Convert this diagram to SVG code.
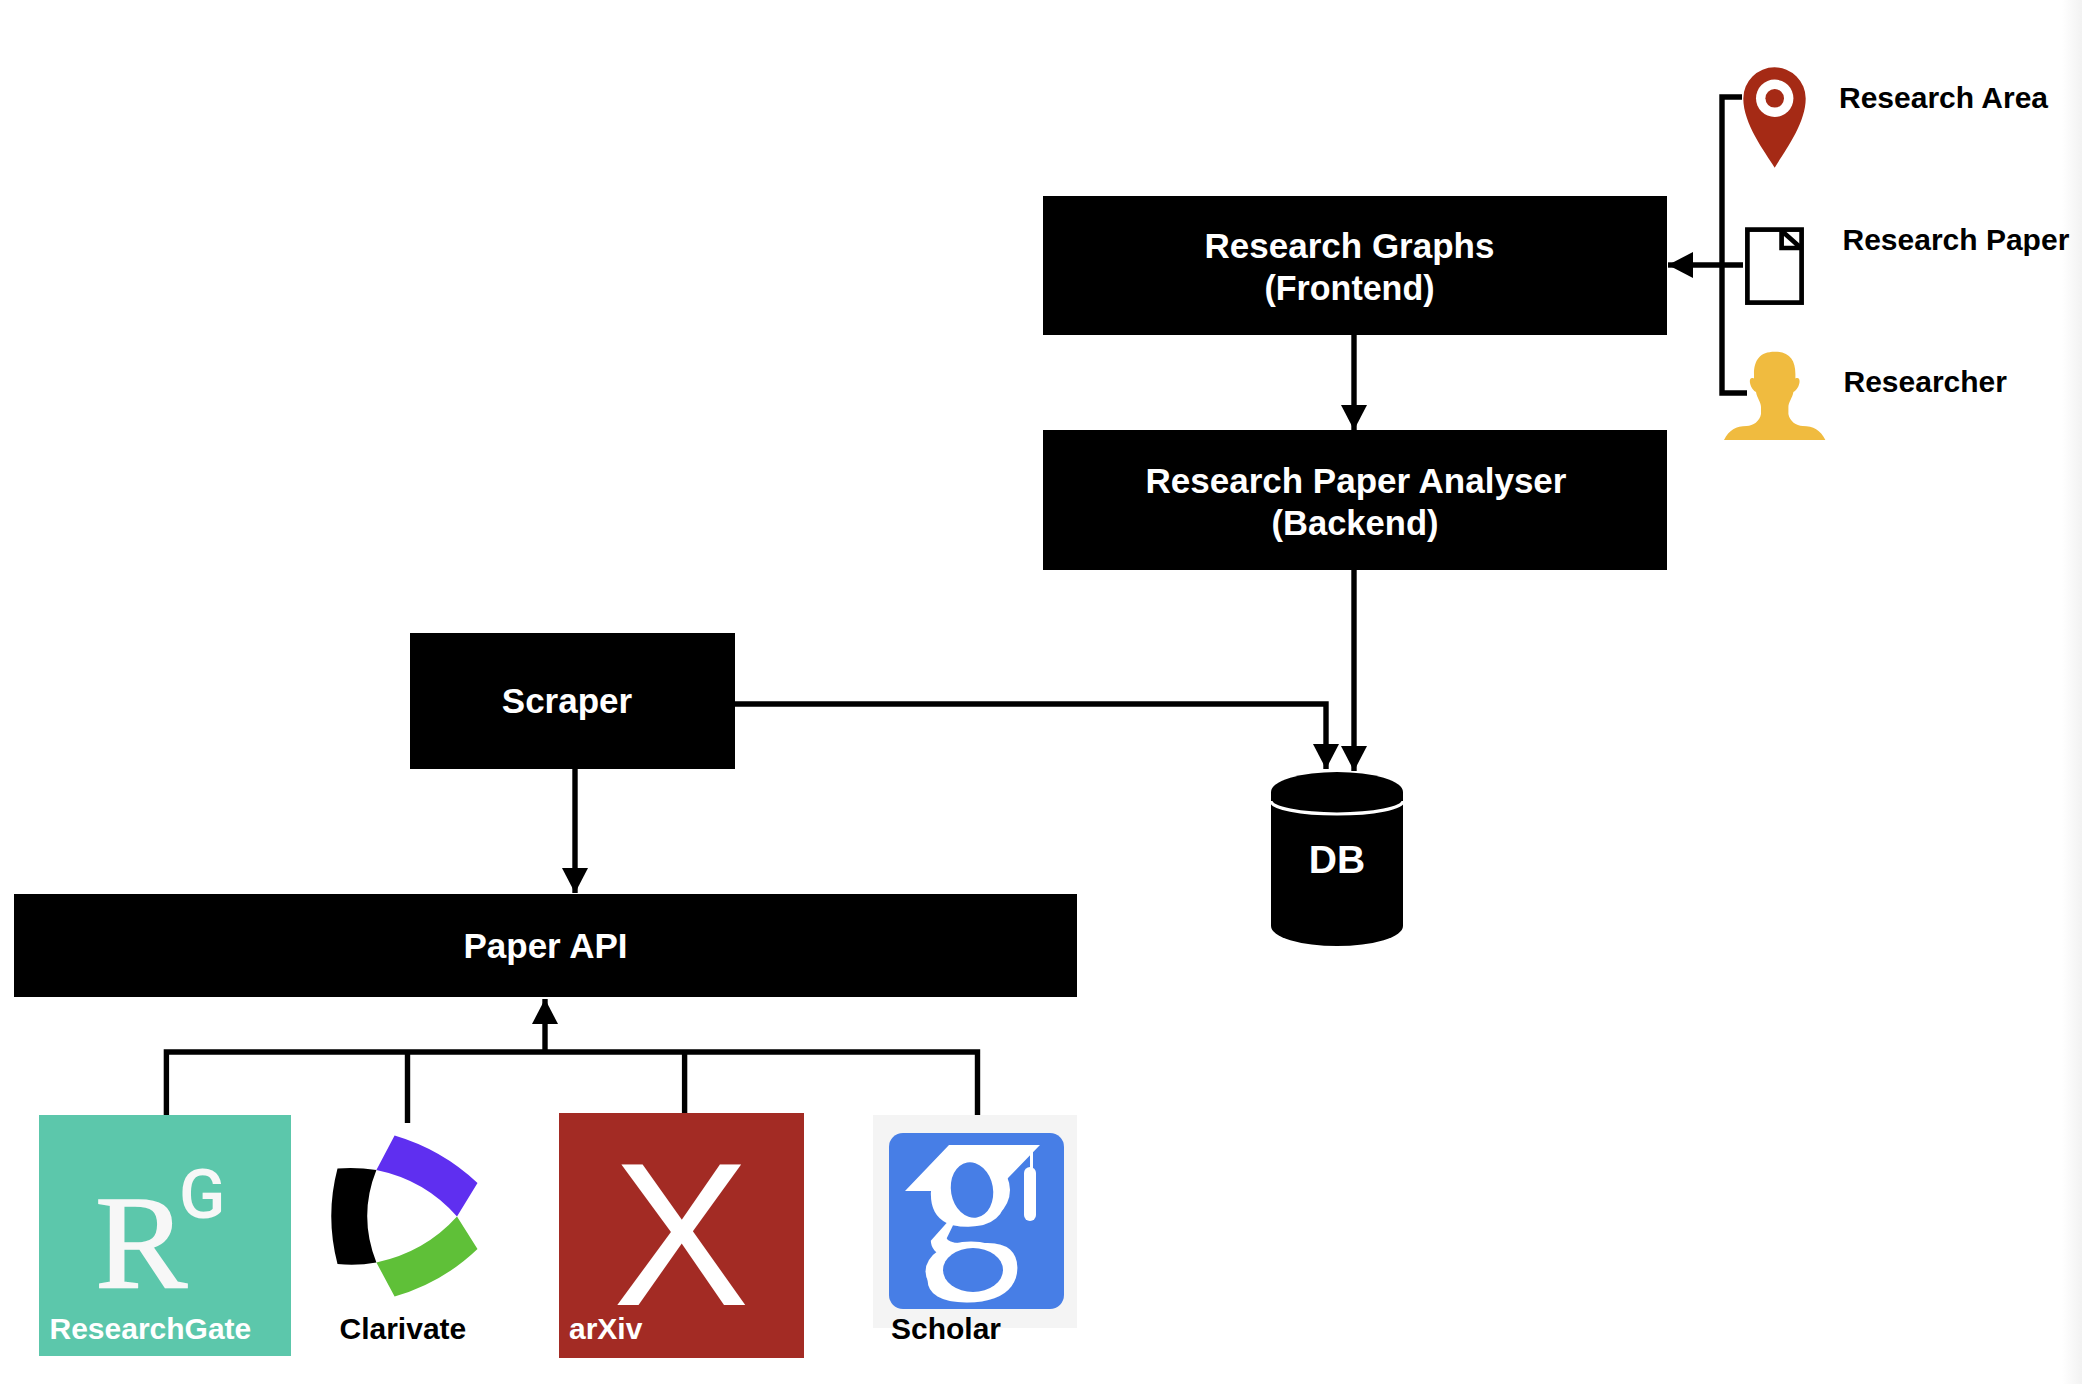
<svg xmlns="http://www.w3.org/2000/svg" width="2082" height="1384" viewBox="0 0 2082 1384">
<style>
text{font-family:"Liberation Sans",Arial,sans-serif;font-weight:700}
.box{fill:#000}
.w{fill:#fff}
.b{fill:#000}
.lb{font-size:35px;text-anchor:middle;fill:#fff}
.sm{font-size:30px;fill:#000}
.con{fill:none;stroke:#000;stroke-width:5.400}
</style>
<defs>
<linearGradient id="edge" x1="0" x2="1" y1="0" y2="0"><stop offset="0" stop-color="#fff"/><stop offset="1" stop-color="#f2f2f2"/></linearGradient>
<marker id="ah" markerUnits="userSpaceOnUse" markerWidth="25" markerHeight="26" refX="25" refY="13" orient="auto"><path d="M0 0L25 13L0 26Z" fill="#000"/></marker>
</defs>
<rect width="2082" height="1384" fill="#fff"/>
<rect x="2062" y="0" width="20" height="1384" fill="url(#edge)"/>
<g id="connectors">
<path class="con" d="M1742 97H1722V393H1747"/>
<path class="con" d="M1743 265H1692"/>
<path class="con" d="M1692 265H1668" marker-end="url(#ah)"/>
<path class="con" d="M1354 335V430" marker-end="url(#ah)"/>
<path class="con" d="M1354 570V771" marker-end="url(#ah)"/>
<path class="con" d="M734 704H1326V769" marker-end="url(#ah)"/>
<path class="con" d="M575 769V893" marker-end="url(#ah)"/>
<path class="con" d="M166.400 1115V1052H977.500V1118"/>
<path class="con" d="M407.500 1052V1123"/>
<path class="con" d="M684.600 1052V1113"/>
<path class="con" d="M545 1052V999" marker-end="url(#ah)"/>
</g>
<g id="research-graphs"><rect class="box" x="1043" y="196" width="624" height="139"/><text class="lb" x="1349.500" y="258">Research Graphs</text><text class="lb" x="1349.500" y="300" textLength="170" lengthAdjust="spacingAndGlyphs">(Frontend)</text></g>
<g id="analyser"><rect class="box" x="1043" y="430" width="624" height="140"/><text class="lb" x="1356" y="492.500">Research Paper Analyser</text><text class="lb" x="1355" y="534.500" textLength="167" lengthAdjust="spacingAndGlyphs">(Backend)</text></g>
<g id="scraper"><rect class="box" x="410" y="633" width="325" height="136"/><text class="lb" x="567" y="713">Scraper</text></g>
<g id="paper-api"><rect class="box" x="14" y="894" width="1063" height="103"/><text class="lb" x="545.500" y="958">Paper API</text></g>
<g id="db">
<path class="b" d="M1271 792A66 20 0 0 1 1403 792V926A66 20 0 0 1 1271 926Z"/>
<path d="M1271 801A66 13 0 0 0 1403 801" fill="none" stroke="#fff" stroke-width="3.200"/>
<text x="1337" y="873" font-size="39" text-anchor="middle" fill="#fff">DB</text>
</g>
<g id="research-area">
<path fill="#a52a15" d="M1774.700 167.700C1765 152 1743.300 124 1743.300 98.500A31.200 31.200 0 0 1 1805.700 98.500C1805.700 124 1784 152 1774.700 167.700Z"/>
<circle cx="1774.700" cy="98.300" r="18.700" fill="#fff"/><circle cx="1774.700" cy="98.300" r="9.300" fill="#a52a15"/>
<text class="sm" x="1839" y="108">Research Area</text>
</g>
<g id="research-paper">
<rect x="1747.400" y="229.600" width="54.200" height="73" fill="#fff" stroke="#000" stroke-width="4.700"/>
<path d="M1781.600 228V248H1803M1783 232L1801 248" fill="none" stroke="#000" stroke-width="4.700"/>
<text class="sm" x="1842.500" y="250">Research Paper</text>
</g>
<g id="researcher">
<path fill="#f0bb3f" d="M1774.700 351.700C1760 351.700 1754 360 1754 374V378.500C1750 377 1749.500 380 1750 383C1751 388 1754 391 1756 392C1757 398 1761 402 1761 407V414C1760 421 1753 426 1746.700 426C1736 426 1729 430 1724 440H1825.400C1820.400 430 1813.400 426 1802.700 426C1796.400 426 1789.400 421 1788.400 414V407C1788.400 402 1792.400 398 1793.400 392C1795.400 391 1798.400 388 1799.400 383C1799.900 380 1799.400 377 1795.400 378.500V374C1795.400 360 1789.400 351.700 1774.700 351.700Z"/>
<text class="sm" x="1843.500" y="392">Researcher</text>
</g>
<g id="researchgate">
<rect x="39" y="1115" width="252" height="241" fill="#5cc7ab"/>
<text transform="translate(95 1287) scale(1.04 1)" font-size="133" stroke="#f7f7f7" stroke-width="1.500" style="font-family:'Liberation Serif',serif;font-weight:400" fill="#f7f7f7">R</text>
<text x="179" y="1218" font-size="68" style="font-family:Roboto,sans-serif;font-weight:500" fill="#f7f7f7">G</text>
<text class="sm" x="49.500" y="1339" style="fill:#fff">ResearchGate</text>
</g>
<g id="clarivate">
<path fill="#5f2ff0" d="M394.600 1135.500Q442 1149.500 477.500 1183L457 1216.500Q425 1180 376.400 1170Z"/>
<path fill="#5fc038" d="M394.600 1296.500Q442 1283 477.500 1249L457 1216.500Q425 1252 376.400 1262.500Z"/>
<path fill="#000" d="M337.500 1168.500Q357 1167 376.400 1170Q358 1216 376.400 1262.500Q357 1266 337.500 1264Q325 1216 337.500 1168.500Z"/>
<text class="sm" x="339.500" y="1339">Clarivate</text>
</g>
<g id="arxiv">
<rect x="559" y="1113" width="245" height="245" fill="#a32b24"/>
<text x="681" y="1305" font-size="205" text-anchor="middle" style="font-family:'Liberation Sans',sans-serif;font-weight:400" fill="#fff">X</text>
<text class="sm" x="569" y="1339" style="fill:#fff">arXiv</text>
</g>
<g id="scholar">
<rect x="873" y="1115" width="204" height="213" fill="#f4f4f4"/>
<rect x="889" y="1133" width="175" height="176" rx="14" fill="#477ee6"/>
<path class="w" d="M949 1145H1040L1008 1178L990 1200H935V1191H905Z"/>
<rect class="w" x="1024" y="1167" width="12" height="54" rx="6"/>
<rect class="w" x="1030" y="1150" width="3" height="25"/>
<text x="970" y="1258" font-size="205" text-anchor="middle" style="font-family:'Liberation Serif',serif;font-weight:400" fill="#fff">g</text>
<ellipse class="w" cx="972" cy="1190" rx="38" ry="34"/>
<ellipse cx="972" cy="1190" rx="21" ry="28" transform="rotate(-10 972 1190)" fill="#477ee6"/>
<ellipse class="w" cx="971" cy="1271.500" rx="45.500" ry="30"/>
<ellipse cx="973" cy="1270" rx="30" ry="22" fill="#477ee6"/>
<text class="sm" x="891" y="1339">Scholar</text>
</g>
</svg>
